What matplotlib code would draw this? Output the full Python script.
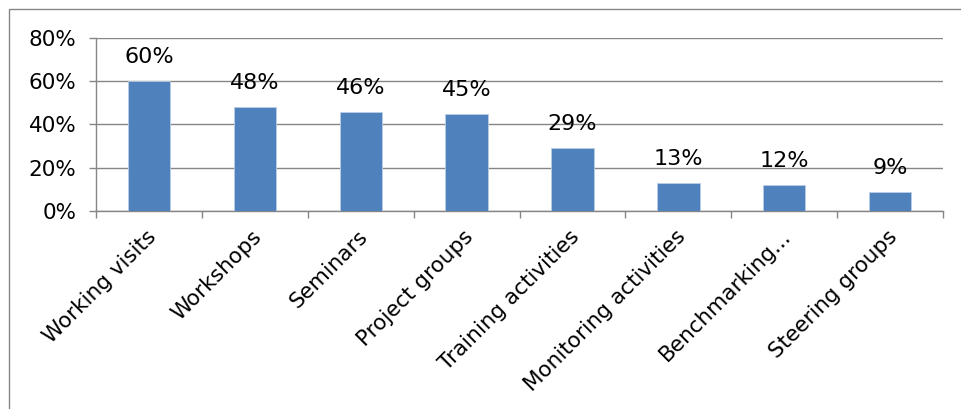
import numpy as np
import matplotlib.pyplot as plt
import matplotlib as mpl
from matplotlib.patches import Rectangle
from matplotlib.ticker import FuncFormatter

mpl.rcParams.update({
    'font.family': 'DejaVu Sans',
    'font.size': 15.5,
})

categories = ['Working visits', 'Workshops', 'Seminars', 'Project groups',
              'Training activities', 'Monitoring activities', 'Benchmarking...',
              'Steering groups']
shares = [0.60, 0.48, 0.46, 0.45, 0.29, 0.13, 0.12, 0.09]
y_ticks = [0.0, 0.2, 0.4, 0.6, 0.8]

grey = '#868686'
bar_blue = '#4F81BD'

fig = plt.figure(figsize=(9.61, 4.09), dpi=100)
ax = fig.add_axes([0.0999, 0.4841, 0.8814, 0.4230])

# outer chart border (left and top edges visible)
fig.patches.append(Rectangle((9 / 961, -0.1), 1.2, 1.1 - 9 / 409,
                             transform=fig.transFigure, fill=False,
                             edgecolor=grey, lw=1.0))

x = np.arange(len(categories))
bars = ax.bar(x, shares, width=0.4, color=bar_blue, edgecolor='#B9CDE5',
              lw=0.6, zorder=3)

for xi, v in zip(x, shares):
    ax.annotate(f'{v:.0%}', (xi, v), xytext=(0, 10), textcoords='offset points',
                ha='center', va='bottom', fontsize=16, color='black', zorder=4)

ax.set_xlim(-0.5, len(categories) - 0.5)
ax.set_ylim(0, 0.8)
ax.set_yticks(y_ticks)
ax.yaxis.set_major_formatter(FuncFormatter(lambda v, p: f'{v:.0%}'))
ax.grid(axis='y', color=grey, lw=1.0, zorder=0)

ax.set_xticks(np.arange(len(categories) + 1) - 0.5, minor=False)
ax.set_xticklabels([])
ax.set_xticks(x - 0.03, minor=True)
ax.set_xticklabels(categories, minor=True, rotation=45, ha='right',
                   rotation_mode='anchor', fontsize=15.5)
ax.tick_params(axis='x', which='minor', length=0, pad=11)
ax.tick_params(axis='x', which='major', length=5, color=grey, width=1)
ax.tick_params(axis='y', length=5, color=grey, width=1, pad=9)

for s in ['top', 'right']:
    ax.spines[s].set_visible(False)
for s in ['left', 'bottom']:
    ax.spines[s].set_color(grey)
    ax.spines[s].set_linewidth(1.0)

fig.savefig('out.png', dpi=100)
